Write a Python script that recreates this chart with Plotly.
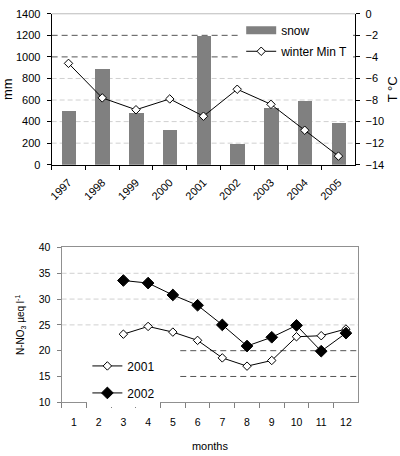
import plotly.graph_objects as go

# ---- data ----
years = ["1997", "1998", "1999", "2000", "2001", "2002", "2003", "2004", "2005"]
snow_mm = [500, 890, 480, 320, 1200, 190, 530, 590, 390]
winter_min_t = [-4.6, -7.8, -8.9, -7.9, -9.5, -7.0, -8.4, -10.8, -13.2]

months = ["1", "2", "3", "4", "5", "6", "7", "8", "9", "10", "11", "12"]
months_obs = ["3", "4", "5", "6", "7", "8", "9", "10", "11", "12"]
no3_2001 = [23.2, 24.7, 23.6, 22.0, 18.6, 17.0, 18.1, 22.7, 22.9, 24.2]
no3_2002 = [33.6, 33.1, 30.8, 28.8, 25.0, 20.9, 22.6, 24.9, 19.9, 23.4]

top_grid_light = [200, 400, 600, 800]
top_grid_dark = [1000, 1200]
bot_grid_light = [25, 30, 35]
bot_grid_dark = [15, 20]

FONT = "Liberation Sans, Arial, sans-serif"
BAR_C = "#808080"

fig = go.Figure()

# top chart
fig.add_trace(go.Bar(x=years, y=snow_mm, marker=dict(color=BAR_C, line=dict(width=0)),
                     width=0.43, showlegend=False, xaxis="x", yaxis="y"))
# legend proxy for the bar (wide swatch)
fig.add_trace(go.Scatter(x=[None], y=[None], mode="lines", name="snow",
                         line=dict(color=BAR_C, width=8), legend="legend", legendgroup="s",
                         xaxis="x", yaxis="y"))
fig.add_trace(go.Scatter(x=years, y=winter_min_t, mode="lines+markers", name="winter Min T",
                         line=dict(color="black", width=1),
                         marker=dict(symbol="diamond", size=6.5, color="white",
                                     line=dict(color="black", width=1)),
                         legend="legend", legendgroup="t", xaxis="x", yaxis="y2"))

# bottom chart
fig.add_trace(go.Scatter(x=months_obs, y=no3_2001, mode="lines+markers", name="2001",
                         line=dict(color="black", width=1),
                         marker=dict(symbol="diamond", size=6.5, color="white",
                                     line=dict(color="black", width=1)),
                         legend="legend2", legendgroup="a", xaxis="x2", yaxis="y3"))
fig.add_trace(go.Scatter(x=months_obs, y=no3_2002, mode="lines+markers", name="2002",
                         line=dict(color="black", width=1),
                         marker=dict(symbol="diamond", size=9, color="black",
                                     line=dict(color="black", width=1)),
                         legend="legend2", legendgroup="b", xaxis="x2", yaxis="y3"))

shapes = []
for v in top_grid_light:
    shapes.append(dict(type="line", layer="below", xref="x domain", x0=0, x1=1, yref="y", y0=v, y1=v,
                       line=dict(color="#d0d0d0", width=1, dash="5px,3px")))
for v in top_grid_dark:
    shapes.append(dict(type="line", layer="below", xref="x domain", x0=0, x1=1, yref="y", y0=v, y1=v,
                       line=dict(color="#555555", width=1, dash="6px,4px")))
shapes.append(dict(type="line", layer="below", xref="x domain", x0=0, x1=1, yref="y domain", y0=1, y1=1,
                   line=dict(color="#bbbbbb", width=1)))
for v in bot_grid_light:
    shapes.append(dict(type="line", layer="below", xref="x2 domain", x0=0, x1=1, yref="y3", y0=v, y1=v,
                       line=dict(color="#d0d0d0", width=1, dash="5px,3px")))
for v in bot_grid_dark:
    shapes.append(dict(type="line", layer="below", xref="x2 domain", x0=0.4, x1=1, yref="y3", y0=v, y1=v,
                       line=dict(color="#555555", width=1, dash="6px,4px")))

tickfont_top = dict(family=FONT, size=11, color="black")
tickfont_bot = dict(family=FONT, size=10.5, color="black")

fig.update_layout(
    width=400, height=456,
    margin=dict(l=0, r=0, t=0, b=0),
    paper_bgcolor="white", plot_bgcolor="white",
    font=dict(family=FONT, color="black"),
    bargap=0,
    shapes=shapes,
    xaxis=dict(domain=[0.1225, 0.8875], anchor="y", type="category", categoryorder="array",
               categoryarray=years, range=[-0.5, 8.5], tickson="boundaries",
               ticks="outside", ticklen=4, tickcolor="black", tickangle=-45,
               ticklabelstandoff=6,
               showline=True, linecolor="black", linewidth=1, showgrid=False,
               tickfont=tickfont_top),
    yaxis=dict(domain=[0.6425, 0.9825], anchor="x", range=[0, 1400], dtick=200,
               ticks="outside", ticklen=4, tickcolor="black", showline=True, linecolor="black",
               ticklabelstandoff=4,
               showgrid=False, zeroline=False, tickfont=tickfont_top,
               title=dict(text="mm", font=dict(family=FONT, size=13), standoff=6)),
    yaxis2=dict(overlaying="y", anchor="x", side="right", range=[-14, 0], dtick=2,
                ticks="outside", ticklen=4, tickcolor="black", showline=True, linecolor="black",
                ticklabelstandoff=3,
                showgrid=False, zeroline=False, tickfont=tickfont_top,
                title=dict(text="T °C", font=dict(family=FONT, size=13), standoff=4)),
    xaxis2=dict(domain=[0.1475, 0.895], anchor="y3", type="category", categoryorder="array",
                categoryarray=months, range=[-0.5, 11.5], tickson="boundaries",
                ticks="outside", ticklen=5, tickcolor="#808080",
                ticklabelstandoff=10,
                showline=True, linecolor="#909090", mirror=True, showgrid=False,
                tickfont=tickfont_bot,
                title=dict(text="months", font=dict(family=FONT, size=11), standoff=15)),
    yaxis3=dict(domain=[0.1075, 0.4561], anchor="x2", range=[10, 40], dtick=5,
                ticks="outside", ticklen=4, tickcolor="#808080", showline=True,
                linecolor="#909090", mirror=True, showgrid=False, zeroline=False,
                ticklabelstandoff=4,
                tickfont=tickfont_bot,
                title=dict(text="N-NO<sub>3</sub> µeq l<sup>-1</sup>",
                           font=dict(family=FONT, size=10), standoff=12)),
    legend=dict(x=0.6, y=0.978, xanchor="left", yanchor="top", bgcolor="white",
                borderwidth=0, font=dict(family=FONT, size=12), tracegroupgap=2),
    legend2=dict(x=0.2125, y=0.222, xanchor="left", yanchor="top", bgcolor="white",
                 borderwidth=0, font=dict(family=FONT, size=12), tracegroupgap=8),
)

fig.write_html("out.html")
